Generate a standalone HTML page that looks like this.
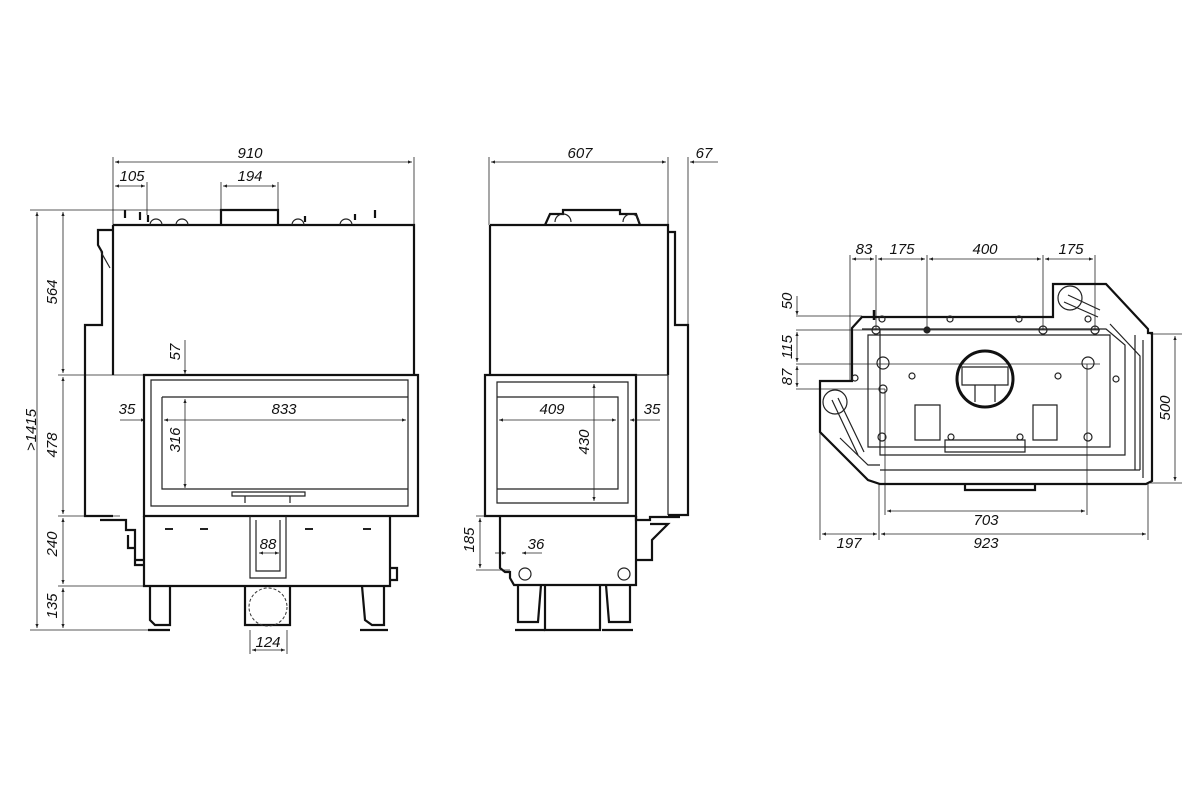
<!DOCTYPE html>
<html><head><meta charset="utf-8"><style>
html,body{margin:0;padding:0;background:#fff;}
svg{display:block}
text{font-family:"Liberation Sans",sans-serif;font-style:italic;font-size:15px;fill:#111;text-anchor:middle}
.t{stroke:#111;stroke-width:2.2;fill:none}
.m{stroke:#222;stroke-width:1.2;fill:none}
.d{stroke:#222;stroke-width:0.8;fill:none}
</style></head><body>
<svg width="1200" height="800" viewBox="0 0 1200 800" xmlns="http://www.w3.org/2000/svg">
<defs>
<marker id="a" viewBox="0 0 10 10" refX="10" refY="5" markerWidth="7" markerHeight="5" orient="auto-start-reverse"><path d="M0,1 L10,5 L0,9 z" fill="#222"/></marker>
</defs>

<!-- ============ FRONT VIEW ============ -->
<g class="d">
<line x1="113" y1="157" x2="113" y2="225"/><line x1="414" y1="157" x2="414" y2="225"/>
<line x1="147" y1="182" x2="147" y2="215"/><line x1="221" y1="182" x2="221" y2="210"/><line x1="278" y1="182" x2="278" y2="210"/>
<line x1="115" y1="162" x2="412" y2="162" marker-start="url(#a)" marker-end="url(#a)"/>
<line x1="115" y1="186" x2="145" y2="186" marker-start="url(#a)" marker-end="url(#a)"/>
<line x1="223" y1="186" x2="276" y2="186" marker-start="url(#a)" marker-end="url(#a)"/>
<line x1="30" y1="210" x2="221" y2="210"/>
<line x1="58" y1="375" x2="150" y2="375"/>
<line x1="58" y1="516" x2="120" y2="516"/>
<line x1="58" y1="586" x2="145" y2="586"/>
<line x1="30" y1="630" x2="160" y2="630"/>
<line x1="37" y1="212" x2="37" y2="628" marker-start="url(#a)" marker-end="url(#a)"/>
<line x1="63" y1="212" x2="63" y2="373" marker-start="url(#a)" marker-end="url(#a)"/>
<line x1="63" y1="377" x2="63" y2="514" marker-start="url(#a)" marker-end="url(#a)"/>
<line x1="63" y1="518" x2="63" y2="584" marker-start="url(#a)" marker-end="url(#a)"/>
<line x1="63" y1="588" x2="63" y2="628" marker-start="url(#a)" marker-end="url(#a)"/>
<line x1="185" y1="340" x2="185" y2="374" marker-end="url(#a)"/>
<line x1="185" y1="399" x2="185" y2="488" marker-start="url(#a)" marker-end="url(#a)"/>
<line x1="120" y1="420" x2="145" y2="420" marker-end="url(#a)"/>
<line x1="164" y1="420" x2="406" y2="420" marker-start="url(#a)" marker-end="url(#a)"/>
<line x1="259" y1="553" x2="279" y2="553" marker-start="url(#a)" marker-end="url(#a)"/>
<line x1="250" y1="630" x2="250" y2="654"/><line x1="287" y1="630" x2="287" y2="654"/>
<line x1="252" y1="650" x2="285" y2="650" marker-start="url(#a)" marker-end="url(#a)"/>
</g>
<text x="250" y="158">910</text><text x="132" y="181">105</text><text x="250" y="181">194</text>
<text transform="translate(36,430) rotate(-90)">&gt;1415</text>
<text transform="translate(57,292) rotate(-90)">564</text>
<text transform="translate(57,445) rotate(-90)">478</text>
<text transform="translate(57,544) rotate(-90)">240</text>
<text transform="translate(57,606) rotate(-90)">135</text>
<text transform="translate(180,352) rotate(-90)">57</text>
<text transform="translate(180,440) rotate(-90)">316</text>
<text x="127" y="414">35</text><text x="284" y="414">833</text>
<text x="268" y="549">88</text><text x="268" y="647">124</text>

<g>
<path class="t" d="M221,225 V210 H278 V225"/>
<path class="t" d="M113,225 H414 V375"/>
<path class="t" d="M113,225 V375"/>
<path class="t" d="M113,230 H98 V245 L102,252 V325 H85 V516 H113"/>
<path class="m" d="M101,252 L110,268"/>
<path class="t" d="M144,375 H418 V516 H144 Z"/>
<path class="m" d="M151,380 H408 V506 H151 Z"/>
<path class="m" d="M162,397 H408 M162,397 V489 H408"/>
<path class="m" d="M232,492 H305 V496 H232 Z M245,496 V503 M290,496 V503"/>
<path class="t" d="M144,516 V586 H390 V516"/>
<path class="m" d="M250,516 V578 H286 V516"/>
<path class="m" d="M256,520 V571 H280 V520"/>
<path class="t" d="M100,520 H126 V530 H135 V560 H144 M128,535 V548 H135 V565 H144"/>
<path class="t" d="M390,568 H397 V580 H390"/>
<path class="t" d="M150,586 V620 L155,625 H170 V586"/>
<path class="t" d="M362,586 L365,620 L372,625 H384 V586"/>
<path class="t" d="M148,630 H170 M360,630 H388"/>
<path class="t" d="M245,586 V625 H290 V586"/>
<circle cx="268" cy="607" r="19" fill="none" stroke="#333" stroke-width="1" stroke-dasharray="3,2"/>
<g fill="#222"><rect x="165" y="528" width="8" height="2"/><rect x="200" y="528" width="8" height="2"/><rect x="305" y="528" width="8" height="2"/><rect x="363" y="528" width="8" height="2"/></g>
<path class="t" d="M125,218 V210 M140,220 V212 M148,222 V215 M375,218 V210 M355,220 V214 M305,222 V216"/>
<path class="m" d="M150,225 a6,6 0 0 1 12,0 M176,225 a6,6 0 0 1 12,0 M292,225 a6,6 0 0 1 12,0 M340,225 a6,6 0 0 1 12,0"/>
</g>

<!-- ============ SIDE VIEW ============ -->
<g class="d">
<line x1="489" y1="157" x2="489" y2="225"/><line x1="668" y1="157" x2="668" y2="225"/><line x1="688" y1="157" x2="688" y2="515"/>
<line x1="491" y1="162" x2="666" y2="162" marker-start="url(#a)" marker-end="url(#a)"/>
<line x1="718" y1="162" x2="690" y2="162" marker-end="url(#a)"/>
<line x1="499" y1="420" x2="616" y2="420" marker-start="url(#a)" marker-end="url(#a)"/>
<line x1="660" y1="420" x2="630" y2="420" marker-end="url(#a)"/>
<line x1="594" y1="384" x2="594" y2="501" marker-start="url(#a)" marker-end="url(#a)"/>
<line x1="476" y1="516" x2="510" y2="516"/><line x1="476" y1="570" x2="510" y2="570"/>
<line x1="480" y1="518" x2="480" y2="568" marker-start="url(#a)" marker-end="url(#a)"/>
<line x1="495" y1="553" x2="506" y2="553" marker-end="url(#a)"/>
<line x1="542" y1="553" x2="522" y2="553" marker-end="url(#a)"/>
</g>
<text x="580" y="158">607</text><text x="704" y="158">67</text>
<text x="552" y="414">409</text><text x="652" y="414">35</text>
<text transform="translate(589,442) rotate(-90)">430</text>
<text transform="translate(474,540) rotate(-90)">185</text>
<text x="536" y="549">36</text>
<g>
<path class="t" d="M490,225 H668 V375 M490,225 V375"/>
<path class="t" d="M545,225 L550,214 H563 V210 H620 V214 H636 L640,225"/>
<path class="m" d="M555,222 a8,8 0 0 1 16,0 M623,222 a8,8 0 0 1 16,0"/>
<path class="t" d="M668,232 H675 V325 H688 V515 H668"/>
<path class="t" d="M485,375 H636 V516 H485 Z"/>
<path class="m" d="M497,382 H628 V503 H497 Z M497,397 H618 V489 H497"/>
<path class="m" d="M636,375 H668 V515"/>
<path class="t" d="M500,516 V568 L505,572 H510 V578 L514,585 H636 V516"/>
<circle cx="525" cy="574" r="6" class="m"/><circle cx="624" cy="574" r="6" class="m"/>
<path class="t" d="M636,516 V520 H650 V517 H680 M650,524 H668 L652,540 V560 H636"/>
<path class="t" d="M518,585 V622 H538 L541,585"/>
<path class="t" d="M606,585 L609,622 H630 V585"/>
<path class="t" d="M545,585 V630 H600 V585"/>
<path class="t" d="M515,630 H545 M602,630 H633"/>
</g>

<!-- ============ PLAN VIEW ============ -->
<g class="d">
<line x1="850" y1="255" x2="850" y2="381"/><line x1="876" y1="255" x2="876" y2="330"/>
<line x1="927" y1="255" x2="927" y2="330"/><line x1="1043" y1="255" x2="1043" y2="330"/><line x1="1095" y1="255" x2="1095" y2="330"/>
<line x1="852" y1="259" x2="874" y2="259" marker-start="url(#a)" marker-end="url(#a)"/>
<line x1="878" y1="259" x2="925" y2="259" marker-start="url(#a)" marker-end="url(#a)"/>
<line x1="929" y1="259" x2="1041" y2="259" marker-start="url(#a)" marker-end="url(#a)"/>
<line x1="1045" y1="259" x2="1093" y2="259" marker-start="url(#a)" marker-end="url(#a)"/>
<line x1="796" y1="316" x2="862" y2="316"/><line x1="796" y1="330" x2="1100" y2="330"/>
<line x1="796" y1="364" x2="1100" y2="364"/><line x1="796" y1="389" x2="885" y2="389"/>
<line x1="797" y1="296" x2="797" y2="315" marker-end="url(#a)"/>
<line x1="797" y1="332" x2="797" y2="362" marker-start="url(#a)" marker-end="url(#a)"/>
<line x1="797" y1="366" x2="797" y2="387" marker-start="url(#a)" marker-end="url(#a)"/>
<line x1="1150" y1="334" x2="1182" y2="334"/><line x1="1150" y1="483" x2="1182" y2="483"/>
<line x1="1175" y1="336" x2="1175" y2="481" marker-start="url(#a)" marker-end="url(#a)"/>
<line x1="820" y1="430" x2="820" y2="540"/><line x1="879" y1="483" x2="879" y2="540"/>
<line x1="1148" y1="483" x2="1148" y2="540"/>
<line x1="885" y1="389" x2="885" y2="515"/><line x1="1087" y1="364" x2="1087" y2="515"/>
<line x1="887" y1="511" x2="1085" y2="511" marker-start="url(#a)" marker-end="url(#a)"/>
<line x1="822" y1="534" x2="877" y2="534" marker-start="url(#a)" marker-end="url(#a)"/>
<line x1="881" y1="534" x2="1146" y2="534" marker-start="url(#a)" marker-end="url(#a)"/>
</g>
<text x="864" y="254">83</text><text x="902" y="254">175</text><text x="985" y="254">400</text><text x="1071" y="254">175</text>
<text transform="translate(792,301) rotate(-90)">50</text>
<text transform="translate(792,347) rotate(-90)">115</text>
<text transform="translate(792,377) rotate(-90)">87</text>
<text transform="translate(1170,408) rotate(-90)">500</text>
<text x="986" y="525">703</text><text x="849" y="548">197</text><text x="986" y="548">923</text>
<g>
<path class="t" d="M862,317 H1053 V284 H1106 L1148,329 V333 H1152 V481 L1146,484 H880 L868,480 L820,432 V381 H852 V328 Z"/>
<path class="m" d="M862,329 H1106 L1125,345 V455 H880 V329"/>
<path class="m" d="M868,335 H1110 V447 H868 Z"/>
<path class="m" d="M880,470 H1140 M1135,335 V470 M1143,340 V478"/>
<path class="m" d="M1110,324 L1140,356 V470 M840,438 L868,465 H880"/>
<path class="m" d="M1068,295 L1100,310 M1064,302 L1098,317"/>
<circle cx="1070" cy="298" r="12" class="m"/>
<circle cx="835" cy="402" r="12" class="m"/>
<path class="m" d="M832,400 L858,455 M838,398 L864,452"/>
<circle cx="985" cy="379" r="28" class="t" style="stroke-width:3"/>
<path class="m" d="M962,367 H1008 V385 H962 Z M975,385 V402 M995,385 V402"/>
<path class="m" d="M915,405 H940 V440 H915 Z M1033,405 H1057 V440 H1033 Z"/>
<path class="m" d="M945,440 H1025 V452 H945 Z"/>
<path class="t" d="M965,484 V490 H1035 V484"/>
<g class="m">
<circle cx="876" cy="330" r="4"/><circle cx="927" cy="330" r="3" fill="#222"/><circle cx="1043" cy="330" r="4"/><circle cx="1095" cy="330" r="4"/>
<circle cx="883" cy="363" r="6"/><circle cx="1088" cy="363" r="6"/><circle cx="883" cy="389" r="4"/>
<circle cx="912" cy="376" r="3"/><circle cx="1058" cy="376" r="3"/><circle cx="855" cy="378" r="3"/><circle cx="1116" cy="379" r="3"/>
<circle cx="882" cy="437" r="4"/><circle cx="1088" cy="437" r="4"/><circle cx="951" cy="437" r="3"/><circle cx="1020" cy="437" r="3"/>
<circle cx="882" cy="319" r="3"/><circle cx="950" cy="319" r="3"/><circle cx="1019" cy="319" r="3"/><circle cx="1088" cy="319" r="3"/>
</g>
<line x1="874" y1="310" x2="874" y2="320" stroke="#111" stroke-width="2.5"/>
</g>
</svg>
</body></html>
